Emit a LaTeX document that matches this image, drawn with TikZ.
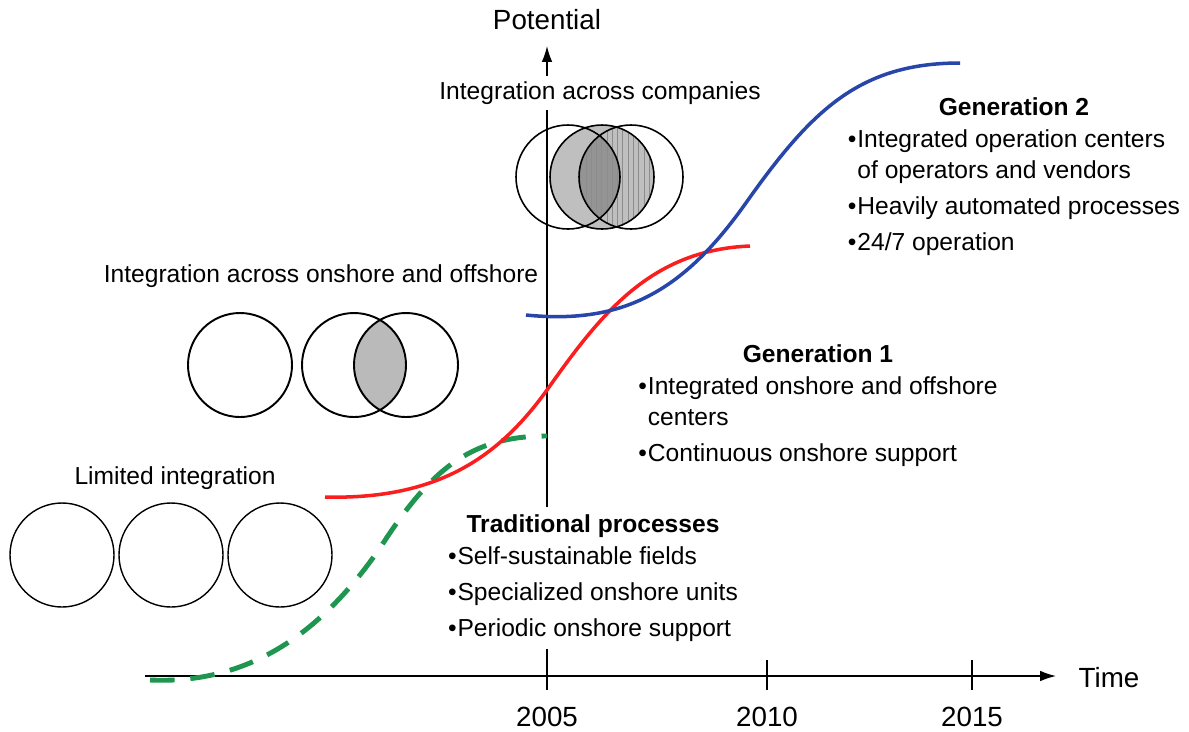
\documentclass[tikz,border=0pt]{standalone}
\usepackage{fontspec}
\setmainfont{Liberation Sans}
\usepackage{graphicx}
\usetikzlibrary{arrows.meta,patterns,positioning}
\definecolor{tradgreen}{RGB}{30,150,80}
\definecolor{genred}{RGB}{250,30,30}
\definecolor{genblue}{RGB}{40,70,170}
\tikzstyle{lbl} = [font=\fontsize{14}{18}\selectfont, inner sep=1pt]
\tikzstyle{axlbl} = [font=\fontsize{15.8}{19}\selectfont, inner sep=1pt]
\tikzstyle{mask} = [lbl, fill=white, inner sep=3pt]
\tikzstyle{block} = [font=\fontsize{14}{18}\selectfont, inner sep=2pt]
\tikzstyle{axis} = [draw, line width=0.8pt, -{Latex[length=9pt,width=6pt]}]
\tikzstyle{ring} = [draw, line width=0.9pt]
\tikzstyle{curve} = [line width=2pt]
\newcommand{\itm}{\textbullet\hspace{0.5pt}}
\newcommand{\ind}{\phantom{\textbullet}\hspace{0.5pt}}

\begin{document}
\begin{tikzpicture}[x=0.02cm, y=-0.02cm]
	\useasboundingbox (0,0) rectangle (1189,731);
	% axes
	\coordinate (origin) at (547,690);
	\coordinate (ytip) at (547,46);
	\coordinate (xstart) at (145,676);
	\coordinate (xtip) at (1056,676);
	\draw[axis] (origin) -- (ytip);
	\draw[axis] (xstart) -- (xtip);
	\foreach \x in {767,972}
		\draw[line width=0.8pt] (\x,660) -- (\x,690);
	
	% limited integration
	\foreach \x in {62,171,280}
		\draw[ring, line width=0.8pt] (\x,555) circle (52);
	
	% onshore and offshore
	\begin{scope}
		\clip (354,365) circle (52);
		\fill[black!27] (406,365) circle (52);
	\end{scope}
	\foreach \x in {240,354,406}
		\draw[ring, line width=1.1pt] (\x,365) circle (52);
	
	% across companies
	\fill[black!25] (602,177) circle (52);
	\begin{scope}
		\clip (568,177) circle (52);
		\fill[black!42] (631,177) circle (52);
	\end{scope}
	\begin{scope}
		\clip (602,177) circle (52);
		\fill[pattern=vertical lines, pattern color=black!45] (631,177) circle (52);
	\end{scope}
	\foreach \x in {568,602,631}
		\draw[ring] (\x,177) circle (52);
	
	% curves
	\draw[curve, tradgreen, line width=2.8pt, dash pattern=on 14pt off 9pt]
		(150,680) .. controls (260,685) and (330,620) .. (380,548)
		.. controls (430,470) and (470,436) .. (547,436);
	\draw[curve, genred] (325,497) .. controls (440,500) and (500,455) .. (547,390)
		.. controls (600,315) and (650,250) .. (750,246);
	\draw[curve, genblue] (526,315) .. controls (625,325) and (685,290) .. (748,200)
		.. controls (812,110) and (860,63) .. (960,63);
	
	% labels
	\node[axlbl] (potential) at (547,20) {Potential};
	\node[mask] (companies) at (600,93) {Integration across companies};
	\node[lbl] (onoff) at (321,276) {Integration across onshore and offshore};
	\node[lbl] (limited) at (175,478) {Limited integration};
	\node[axlbl] (time) at (1109,678) {Time};
	\node[axlbl] (y2005) at (547,717) {2005};
	\foreach \x/\yr in {767/2010,972/2015}
		\node[axlbl] (y\yr) at (\x,717) {\yr};
	
	% text blocks
	\node[block] (gen2) at (1014,177) {\begin{tabular}{@{}l@{}}
		\multicolumn{1}{@{}c@{}}{\bfseries Generation 2}\\
		\itm Integrated operation centers\\
		\ind of operators and vendors\\[2.5pt]
		\itm Heavily automated processes\\[2.5pt]
		\itm 24/7 operation
	\end{tabular}};
	\node[block] (gen1) at (818,406) {\begin{tabular}{@{}l@{}}
		\multicolumn{1}{@{}c@{}}{\bfseries Generation 1}\\
		\itm Integrated onshore and offshore\\
		\ind centers\\[2.5pt]
		\itm Continuous onshore support
	\end{tabular}};
	\node[block, fill=white] (trad) at (593,578) {\begin{tabular}{@{}l@{}}
		\multicolumn{1}{@{}c@{}}{\bfseries Traditional processes}\\
		\itm Self-sustainable fields\\[2.5pt]
		\itm Specialized onshore units\\[2.5pt]
		\itm Periodic onshore support
	\end{tabular}};
\end{tikzpicture}
\end{document}
